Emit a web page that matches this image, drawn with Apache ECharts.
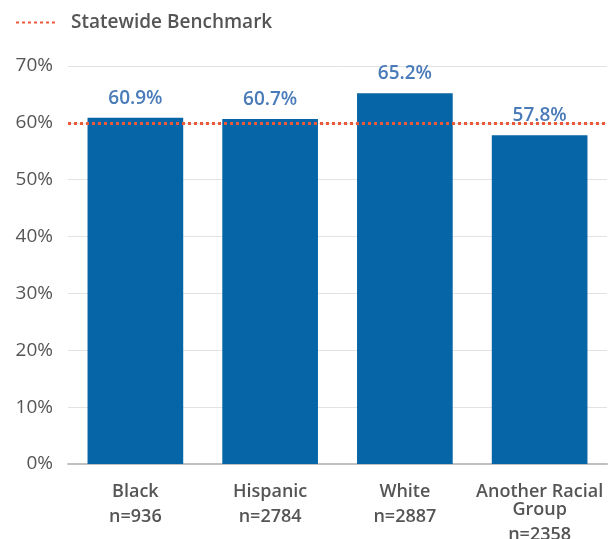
<!DOCTYPE html>
<html>
<head>
<meta charset="utf-8">
<script src="https://cdn.jsdelivr.net/npm/echarts@6/dist/echarts.min.js"></script>
<style>
  html, body { margin: 0; padding: 0; background: #ffffff; }
  #chart { width: 610px; height: 539px; }
</style>
</head>
<body>
<div id="chart"></div>
<script>
// Groups, sample sizes and rates shown on the chart
const groups = ['Black', 'Hispanic', 'White', 'Another Racial\nGroup'];
const sampleSizes = [936, 2784, 2887, 2358];
const rates = [60.9, 60.7, 65.2, 57.8];
const benchmark = 60;
const benchmarkName = 'Statewide Benchmark';
const yTicks = { min: 0, max: 70, interval: 10 };

const categories = groups.map((g, i) => g + '\nn=' + sampleSizes[i]);

const chart = echarts.init(document.getElementById('chart'), null, { renderer: 'canvas' });

const FONT = '"Open Sans", Lato, sans-serif';
const RED = '#ea5a3a';
const TEXT = '#555555';

// Group name lines sit close together; the sample-size line gets more room
function categoryLabel(value) {
  const lines = value.split('\n');
  const nLine = lines.pop();
  return lines.map(l => '{g|' + l + '}').join('\n') + '\n{n|' + nLine + '}';
}

chart.setOption({
  animation: false,
  backgroundColor: '#ffffff',
  legend: {
    left: 10,
    top: 8,
    itemWidth: 42,
    itemHeight: 20,
    itemGap: 10,
    itemStyle: { opacity: 0 },
    textStyle: { color: TEXT, fontSize: 19, fontFamily: FONT, fontWeight: 600, padding: [0, 0, 0, 8] },
    data: [benchmarkName]
  },
  grid: { left: 68, right: 3, top: 66, bottom: 75, containLabel: false, outerBoundsMode: 'none' },
  xAxis: {
    type: 'category',
    data: categories,
    axisLine: { show: true, lineStyle: { color: '#c0c0c0', width: 2 } },
    axisTick: { show: false },
    axisLabel: {
      formatter: categoryLabel,
      margin: 19,
      interval: 0,
      rich: {
        g: { color: TEXT, fontSize: 18, fontFamily: FONT, fontWeight: 600, lineHeight: 18 },
        n: { color: TEXT, fontSize: 18, fontFamily: FONT, fontWeight: 600, lineHeight: 32 }
      }
    }
  },
  yAxis: {
    type: 'value',
    min: yTicks.min,
    max: yTicks.max,
    interval: yTicks.interval,
    axisLine: { show: false },
    axisTick: { show: false },
    splitLine: { lineStyle: { color: '#e2e2e2', width: 1 } },
    axisLabel: {
      formatter: '{value}%',
      color: TEXT,
      fontSize: 19,
      fontFamily: FONT,
      margin: 15
    }
  },
  series: [
    {
      name: 'Rate',
      type: 'bar',
      data: rates,
      barWidth: '71%',
      itemStyle: { color: '#0565a6' },
      label: {
        show: true,
        position: 'top',
        distance: 10,
        formatter: p => p.value.toFixed(1) + '%',
        color: '#4a7bb9',
        fontSize: 19,
        fontWeight: 600,
        fontFamily: FONT
      },
      z: 2
    },
    {
      name: benchmarkName,
      type: 'line',
      data: [],
      symbol: 'none',
      lineStyle: { color: RED, width: 3, type: [3, 3] },
      itemStyle: { color: RED },
      markLine: {
        silent: true,
        symbol: 'none',
        label: { show: false },
        lineStyle: { color: RED, width: 3, type: [3, 3] },
        data: [{ yAxis: benchmark }],
        z: 5
      }
    }
  ]
});
</script>
</body>
</html>
